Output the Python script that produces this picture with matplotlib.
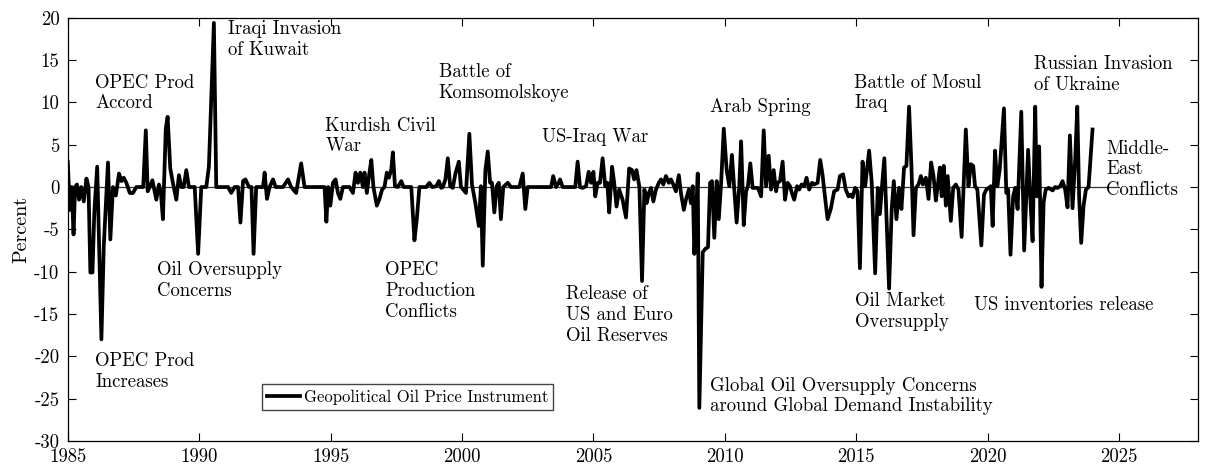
import matplotlib

matplotlib.use('agg')
import matplotlib.pyplot as plt

# decimal-year dates and percent values
dates = [
    1985.00, 1985.08, 1985.15, 1985.22, 1985.28, 1985.35, 1985.43, 1985.51, 1985.61, 1985.71,
    1985.79, 1985.86, 1985.94, 1986.01, 1986.12, 1986.28, 1986.37, 1986.53, 1986.62, 1986.72,
    1986.83, 1986.95, 1987.04, 1987.13, 1987.23, 1987.36, 1987.48, 1987.61, 1987.87, 1987.97,
    1988.04, 1988.12, 1988.22, 1988.37, 1988.47, 1988.55, 1988.62, 1988.73, 1988.80, 1988.90,
    1989.00, 1989.13, 1989.23, 1989.32, 1989.41, 1989.51, 1989.61, 1989.83, 1989.96, 1990.08,
    1990.27, 1990.37, 1990.56, 1990.65, 1991.10, 1991.22, 1991.35, 1991.48, 1991.57, 1991.67,
    1991.76, 1991.90, 1991.99, 1992.07, 1992.17, 1992.43, 1992.49, 1992.58, 1992.68, 1992.81,
    1992.91, 1993.19, 1993.38, 1993.50, 1993.69, 1993.88, 1994.01, 1994.77, 1994.84, 1994.91,
    1994.99, 1995.09, 1995.19, 1995.28, 1995.37, 1995.47, 1995.72, 1995.85, 1995.95, 1996.04,
    1996.13, 1996.23, 1996.29, 1996.38, 1996.46, 1996.55, 1996.63, 1996.76, 1996.86, 1996.96,
    1997.05, 1997.14, 1997.22, 1997.31, 1997.37, 1997.45, 1997.56, 1997.69, 1997.78, 1998.07,
    1998.19, 1998.28, 1998.38, 1998.64, 1998.76, 1998.87, 1999.02, 1999.12, 1999.21, 1999.27,
    1999.37, 1999.46, 1999.55, 1999.65, 1999.75, 1999.88, 1999.96, 2000.05, 2000.15, 2000.28,
    2000.38, 2000.51, 2000.64, 2000.72, 2000.79, 2000.89, 2000.98, 2001.07, 2001.14, 2001.23,
    2001.32, 2001.40, 2001.48, 2001.57, 2001.74, 2001.86, 2002.18, 2002.31, 2002.41, 2002.50,
    2003.39, 2003.47, 2003.58, 2003.68, 2003.73, 2003.83, 2004.31, 2004.40, 2004.49, 2004.59,
    2004.72, 2004.82, 2004.91, 2005.00, 2005.07, 2005.16, 2005.25, 2005.35, 2005.45, 2005.53,
    2005.60, 2005.71, 2005.79, 2005.88, 2005.98, 2006.11, 2006.24, 2006.36, 2006.47, 2006.55,
    2006.64, 2006.75, 2006.85, 2006.94, 2007.03, 2007.11, 2007.19, 2007.28, 2007.38, 2007.49,
    2007.57, 2007.66, 2007.76, 2007.87, 2007.95, 2008.04, 2008.14, 2008.25, 2008.33, 2008.44,
    2008.52, 2008.63, 2008.71, 2008.78, 2008.84, 2008.90, 2008.97, 2009.03, 2009.16, 2009.26,
    2009.36, 2009.44, 2009.51, 2009.60, 2009.69, 2009.77, 2009.86, 2009.96, 2010.07, 2010.17,
    2010.27, 2010.36, 2010.45, 2010.55, 2010.62, 2010.72, 2010.81, 2010.88, 2010.97, 2011.06,
    2011.16, 2011.26, 2011.38, 2011.48, 2011.57, 2011.67, 2011.76, 2011.86, 2011.95, 2012.01,
    2012.10, 2012.20, 2012.29, 2012.39, 2012.48, 2012.55, 2012.64, 2012.75, 2012.83, 2012.92,
    2013.02, 2013.11, 2013.21, 2013.32, 2013.40, 2013.53, 2013.63, 2013.72, 2013.82, 2013.91,
    2014.03, 2014.16, 2014.29, 2014.38, 2014.50, 2014.60, 2014.71, 2014.79, 2014.86, 2014.96,
    2015.05, 2015.14, 2015.24, 2015.34, 2015.49, 2015.59, 2015.72, 2015.82, 2015.90, 2015.97,
    2016.07, 2016.25, 2016.35, 2016.43, 2016.53, 2016.63, 2016.72, 2016.82, 2016.91, 2017.01,
    2017.10, 2017.18, 2017.27, 2017.37, 2017.46, 2017.54, 2017.65, 2017.75, 2017.85, 2017.94,
    2018.03, 2018.10, 2018.18, 2018.25, 2018.33, 2018.41, 2018.48, 2018.60, 2018.69, 2018.79,
    2018.89, 2019.01, 2019.17, 2019.27, 2019.36, 2019.45, 2019.52, 2019.61, 2019.76, 2019.86,
    2019.95, 2020.05, 2020.12, 2020.19, 2020.28, 2020.37, 2020.46, 2020.62, 2020.71, 2020.78,
    2020.87, 2020.97, 2021.05, 2021.14, 2021.28, 2021.39, 2021.54, 2021.62, 2021.71, 2021.81,
    2021.87, 2021.96, 2022.05, 2022.13, 2022.21, 2022.32, 2022.47, 2022.57, 2022.66, 2022.76,
    2022.85, 2022.95, 2023.04, 2023.13, 2023.23, 2023.33, 2023.41, 2023.48, 2023.56, 2023.65,
    2023.74, 2023.84, 2023.99,
]
values = [
    3.0, -2.7, 0.0, -5.6, 0.0, 0.3, -1.5, 0.0, -1.7, 1.0,
    0.0, -10.1, -10.1, -3.0, 2.4, -18.0, -7.0, 2.9, -6.2, 0.0,
    -1.0, 1.6, 0.7, 1.1, 0.5, -0.7, -0.7, 0.0, 0.0, 6.7,
    -0.5, 0.0, 0.8, -1.5, 0.3, -0.9, -3.8, 6.9, 8.3, 2.2,
    0.5, -1.5, 1.4, 0.0, 0.0, 2.0, 0.0, 0.0, -7.9, 0.0,
    0.0, 2.4, 19.4, 0.0, 0.0, -0.7, 0.0, 0.0, -4.2, 0.7,
    0.9, 0.0, 0.0, -7.9, 0.0, 0.0, 1.7, -1.4, 0.0, 0.9,
    0.0, 0.0, 0.9, 0.0, -0.7, 2.8, 0.0, 0.0, -4.1, 0.0,
    -2.2, 0.5, 0.9, -0.7, -1.4, 0.0, 0.0, -0.7, 1.7, 0.5,
    1.7, 0.0, 1.7, -0.7, 1.3, 3.2, 0.0, -2.2, -1.4, -0.3,
    0.0, 1.7, 1.1, 2.1, 4.1, 0.1, 0.0, 0.7, 0.0, 0.0,
    -6.3, -3.8, 0.0, 0.0, 0.5, 0.0, 0.1, 0.7, -0.1, 0.0,
    0.9, 3.4, 0.1, -0.1, 1.6, 3.0, 0.0, -0.3, -0.7, 6.3,
    0.3, -1.9, -4.6, 0.1, -9.3, 2.0, 4.2, 0.5, 0.5, -3.0,
    0.1, 0.5, -3.8, 0.0, 0.5, 0.0, 0.0, 1.6, -2.6, 0.0,
    0.0, 1.3, 0.0, 0.5, 0.9, 0.0, 0.0, 3.0, 0.0, -0.1,
    0.1, 1.8, 0.5, 1.8, -1.1, 0.5, 0.5, 3.4, 0.1, 0.5,
    -3.0, 2.4, 0.5, -2.3, -0.3, -1.5, -3.6, 2.2, 2.0, 0.9,
    2.0, 0.0, -11.1, -0.3, -1.9, -0.7, -0.1, -1.7, -0.3, 0.5,
    0.9, 0.3, 1.3, 0.5, 0.9, 0.3, -0.5, 1.4, -0.7, -2.7,
    -1.5, -0.3, -1.9, 0.1, -7.9, -3.8, 1.6, -26.1, -7.7, -7.3,
    -7.1, 0.5, 0.7, -6.0, 0.7, -3.8, 0.5, 6.9, 2.0, 0.1,
    3.8, -0.3, -4.2, 0.1, 5.4, -4.5, -0.5, 0.1, 2.8, -0.1,
    -0.1, -0.1, -1.1, 6.7, 0.1, 3.7, -0.3, 2.0, -0.5, 0.5,
    0.7, 3.0, -1.5, 0.5, 0.1, -0.7, -1.5, 0.1, -0.3, 0.3,
    0.1, 1.1, -0.3, 0.5, 0.3, 0.5, 3.2, 1.4, -1.4, -3.8,
    -2.6, -0.5, -0.3, 1.3, 1.5, -0.3, -1.1, -0.9, -1.2, -0.1,
    -0.5, -9.6, 3.0, 0.1, 4.3, 0.5, -10.2, -0.1, -3.2, -0.3,
    3.4, -12.0, -2.6, 0.7, -3.8, -0.1, -2.6, 2.3, 2.5, 9.5,
    2.5, -5.7, -0.1, 0.3, 1.3, 0.3, 1.1, -1.4, 2.9, 1.3,
    -1.6, 0.1, 2.3, -1.1, 2.5, -2.2, 1.3, -4.0, -0.1, 0.3,
    -0.3, -5.9, 6.8, 0.1, 2.7, 2.5, 0.1, -0.3, -6.9, -0.9,
    -0.3, -0.1, 0.1, -4.6, 4.3, 0.1, 2.1, 9.3, -0.7, -0.3,
    -8.0, -1.1, -0.1, -2.6, 8.9, -7.5, 4.4, -1.1, -6.4, 9.5,
    -1.1, 4.8, -11.8, -1.8, -0.3, -0.1, -0.4, 0.0, -0.1, 0.1,
    0.7, -0.3, -2.4, 6.1, -2.5, 3.2, 9.5, -1.1, -6.6, -2.2,
    -0.3, 0.0, 6.8,
]

# event labels: (x, top y, text)
event_x = [1991.1, 1986.05, 1994.8, 1999.12, 2003.05, 2009.45, 2014.92, 2021.77, 2024.52,
           1988.38, 1986.05, 1997.08, 2003.97, 2009.45, 2014.95, 2019.48]
event_y = [19.7, 13.4, 8.3, 14.6, 7.0, 10.5, 13.4, 15.6, 5.6,
           -8.8, -19.5, -8.8, -11.6, -22.4, -12.4, -12.9]
event_text = [
    'Iraqi Invasion\nof Kuwait', 'OPEC Prod\nAccord', 'Kurdish Civil\nWar',
    'Battle of\nKomsomolskoye', 'US-Iraq War', 'Arab Spring', 'Battle of Mosul\nIraq',
    'Russian Invasion\nof Ukraine', 'Middle-\nEast\nConflicts',
    'Oil Oversupply\nConcerns', 'OPEC Prod\nIncreases', 'OPEC\nProduction\nConflicts',
    'Release of\nUS and Euro\nOil Reserves',
    'Global Oil Oversupply Concerns\naround Global Demand Instability',
    'Oil Market\nOversupply', 'US inventories release',
]

plt.rcParams['font.family'] = ['cmr10', 'DejaVu Serif']
plt.rcParams['axes.unicode_minus'] = False
plt.rcParams['mathtext.fontset'] = 'cm'

fig = plt.figure(figsize=(12.1, 4.69), dpi=100)
ax = fig.add_axes([0.056, 0.060, 0.934, 0.902])

ax.plot([1985, 2025], [0, 0], color='#333333', linewidth=0.9)
ax.plot(dates, values, color='black', linewidth=2.7, label='Geopolitical Oil Price Instrument')

for x, y, t in zip(event_x, event_y, event_text):
    ax.text(x, y, t, ha='left', va='top', fontsize=13.5, linespacing=1.2)

ax.set_xlim(1985, 2028)
ax.set_ylim(-30, 20)
ax.set_xticks(range(1985, 2030, 5))
ax.set_yticks(range(-30, 25, 5))
ax.tick_params(direction='in', top=True, right=True, labelsize=13.5, length=6, width=0.8)
ax.tick_params(axis='x', pad=5)
ax.tick_params(axis='y', pad=6)
for s in ax.spines.values():
    s.set_linewidth(0.9)
ax.set_ylabel('Percent', fontsize=14.5, labelpad=3)

ax.legend(loc='lower left', bbox_to_anchor=(0.172, 0.074), borderaxespad=0,
          fancybox=False, edgecolor='#444444', fontsize=12, handlelength=2.0,
          handletextpad=0.2, borderpad=0.3, framealpha=1)

plt.savefig('out.png', dpi=100)
